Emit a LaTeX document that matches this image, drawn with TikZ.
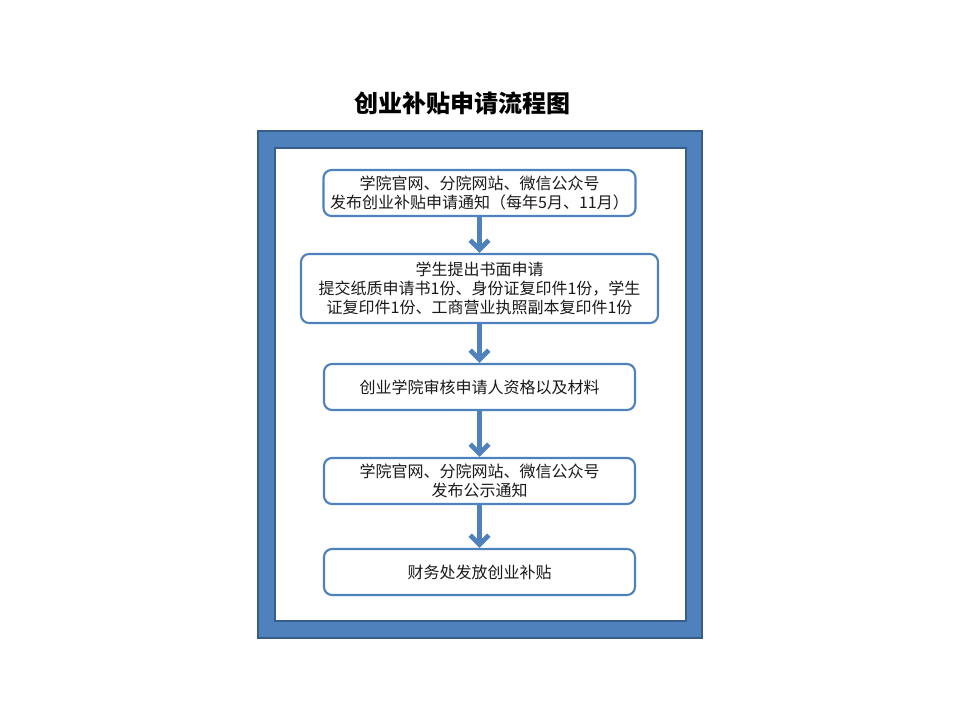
\documentclass[tikz,border=0pt]{standalone}
\usepackage{fontspec}
\setmainfont{Noto Sans CJK SC}
\usetikzlibrary{arrows.meta,positioning}
\definecolor{frameblue}{HTML}{4F81BD}
\definecolor{framedark}{HTML}{385D8A}
\definecolor{txt}{HTML}{1A1A1A}
\tikzset{
  stepbox/.style={draw=frameblue, line width=1.6pt, rounded corners=6pt, fill=white,
    align=center, text=txt, font=\fontsize{12}{14}\selectfont, inner sep=0pt},
  flowarrow/.style={draw=frameblue, line width=3.6pt,
    -{Straight Barb[length=7pt,width=14pt]}}
}
\begin{document}
\begin{tikzpicture}[x=0.75pt,y=-0.75pt]
\useasboundingbox (0,0) rectangle (960,720);
% title
\node[font=\fontsize{18}{20}\selectfont\bfseries, text=black] (title) at (462,103) {创业补贴申请流程图};
% frame
\path[fill=frameblue, draw=framedark, line width=1.2pt] (258,131) rectangle (702,638);
\path[fill=white, draw=framedark, line width=1.2pt] (275,148) rectangle (686,621);
% boxes
\node[stepbox, minimum width=234pt, minimum height=34.5pt] (b1) at (479.5,193)
  {学院官网、分院网站、微信公众号\\发布创业补贴申请通知（每年5月、11月）};
\node[stepbox, minimum width=267.75pt, minimum height=51.75pt] (b2) at (479.5,288.5)
  {学生提出书面申请\\提交纸质申请书1份、身份证复印件1份，学生\\证复印件1份、工商营业执照副本复印件1份};
\node[stepbox, minimum width=233.25pt, minimum height=34.5pt] (b3) at (479.5,387)
  {创业学院审核申请人资格以及材料};
\node[stepbox, minimum width=233.25pt, minimum height=34.5pt] (b4) at (479.5,481)
  {学院官网、分院网站、微信公众号\\发布公示通知};
\node[stepbox, minimum width=233.25pt, minimum height=34.5pt] (b5) at (479.5,572)
  {财务处发放创业补贴};
% arrows
\draw[flowarrow] (b1.south) -- (b2.north);
\draw[flowarrow] (b2.south) -- (b3.north);
\draw[flowarrow] (b3.south) -- (b4.north);
\draw[flowarrow] (b4.south) -- (b5.north);
\end{tikzpicture}
\end{document}
